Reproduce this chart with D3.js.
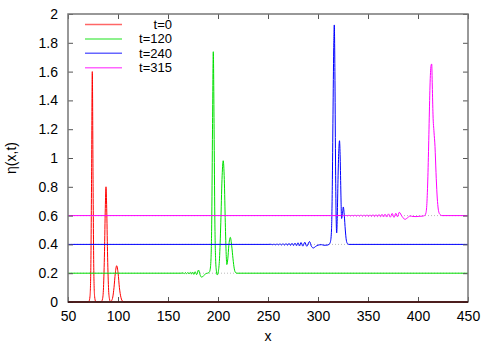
<!DOCTYPE html>
<html><head><meta charset="utf-8">
<script src="https://cdn.jsdelivr.net/npm/d3@7"></script>
<style>body{margin:0;background:#fff}svg{display:block}text{font-family:"Liberation Sans",Arial,sans-serif;fill:#000}</style>
</head><body><svg id="c" width="486" height="347"></svg>
<script>
const xTicks = [50,100,150,200,250,300,350,400,450];
const yTicks = [0,0.2,0.4,0.6,0.8,1,1.2,1.4,1.6,1.8,2];
const seriesNames = ["t=0","t=120","t=240","t=315"];
const seriesColors = ["#ff0000","#00e000","#0000ff","#ff00ff"];
const baselines = [0.2,0.4,0.6];

const t0 = [[50,0],[70,0],[71,0.005],[72,0.04],[72.8,0.22],[73.5,0.8],[74.3,1.6],[75.1,0.8],[75.8,0.22],[76.6,0.04],[77.6,0.005],[79,0],
 [83,0],[84.5,0.02],[85.5,0.1],[86.5,0.35],[87.3,0.65],[88,0.8],[88.7,0.65],[89.5,0.35],[90.5,0.1],[91.5,0.02],[92.5,0.002],
 [93.5,0.008],[94.8,0.035],[96,0.1],[97.3,0.2],[98.7,0.252],[100.1,0.2],[101.4,0.1],[103,0.03],[104.5,0.006],[106,0],[450,0]];

const t120 = [[50,0.2],[163,0.2],[165,0.202],[166.2,0.197],[167.4,0.204],[168.6,0.196],[169.8,0.205],[171,0.195],[172.2,0.206],[173.4,0.194],[174.6,0.208],[175.8,0.192],[177.2,0.21],[178.6,0.19],[180.5,0.222],[182,0.19],[183.7,0.172],[185.5,0.182],[187.5,0.195],[189.5,0.2],[191,0.205],
 [192,0.22],[193,0.3],[193.8,0.6],[194.5,1.2],[195.3,1.738],[196.1,1.2],[196.8,0.6],[197.6,0.3],[198.5,0.21],[199.3,0.188],
 [200.3,0.21],[201.5,0.3],[202.8,0.55],[204,0.85],[205.2,0.981],[206.3,0.85],[207.3,0.55],[208.2,0.33],[208.8,0.26],
 [209.8,0.3],[210.8,0.39],[212.3,0.449],[213.7,0.39],[215,0.3],[216.3,0.23],[217.5,0.205],[219,0.2],[450,0.2]];

const t240 = [[50,0.4],[250,0.4],[253,0.401],[254.5,0.398],[256,0.402],[257.5,0.397],[259,0.403],[260.5,0.397],[262,0.404],[263.5,0.396],[265,0.405],[266.5,0.395],[268,0.406],[269.5,0.394],[271,0.407],[272.5,0.393],[274,0.408],[275.5,0.392],[277,0.409],[278.5,0.391],[280,0.411],[281.5,0.389],[283,0.413],[284.8,0.388],[286.8,0.415],[288.8,0.387],[291.5,0.42],[293.2,0.39],[295.3,0.375],[297.5,0.385],[300,0.395],[303.7,0.398],[306,0.394],[309,0.395],[311,0.4],
 [312.5,0.42],[313.5,0.5],[314.3,0.8],[315,1.3],[315.7,1.75],[316.3,1.924],[316.9,1.6],[317.5,1.0],[318.1,0.6],[318.7,0.48],[319.3,0.6],[320,0.85],[320.8,1.05],[321.5,1.12],[322.2,1.0],[322.9,0.75],[323.6,0.58],[324.3,0.6],[325.3,0.66],[326.3,0.6],[327.3,0.5],[328.3,0.43],[329.5,0.405],[331,0.4],[450,0.4]];

const t315 = [[50,0.6],[320,0.6],[322,0.601],[323.5,0.599],[325,0.602],[326.5,0.598],[328,0.602],[329.5,0.598],[331,0.603],[332.5,0.597],[334,0.603],[335.5,0.597],[337,0.604],[338.5,0.596],[340,0.604],[341.5,0.596],[343,0.605],[344.5,0.595],[346,0.605],[347.5,0.595],[349,0.606],[350.5,0.594],[352,0.606],[353.5,0.594],[355,0.607],[356.5,0.593],[358,0.607],[359.5,0.593],[361,0.608],[362.5,0.592],[364,0.609],[365.5,0.591],[367,0.61],[368.7,0.59],[370.5,0.612],[372.3,0.589],[374.2,0.615],[376,0.588],[377.8,0.616],[379.5,0.592],[381.3,0.623],[384,0.595],[387,0.574],[389.5,0.585],[392,0.597],[395,0.594],[398,0.593],[401,0.595],[404,0.596],[406.5,0.6],
 [408,0.62],[409,0.7],[410,0.9],[411,1.2],[412,1.5],[413,1.64],[413.7,1.653],[414.3,1.5],[415,1.3],[416,1.18],[417,1.08],[418,0.9],[419,0.75],[420,0.66],[421,0.62],[422.5,0.605],[424,0.6],[450,0.6]];

const series = [t0,t120,t240,t315];

const svg = d3.select("#c");
const x = d3.scaleLinear().domain([50,450]).range([68,468]);
const y = d3.scaleLinear().domain([0,2]).range([302,14]);

svg.selectAll("line.base").data(baselines).join("line")
  .attr("x1",x(50)).attr("x2",x(450)).attr("y1",d=>y(d)).attr("y2",d=>y(d))
  .attr("stroke","#bbb").attr("stroke-width",1).attr("stroke-dasharray","1,2");

const line = d3.line().x(d=>x(d[0])).y(d=>y(d[1])).curve(d3.curveMonotoneX);
svg.selectAll("path.s").data(series).join("path")
  .attr("fill","none").attr("stroke",(d,i)=>seriesColors[i]).attr("stroke-width",1)
  .attr("d",line);

const tl = 5, fs = 14;
const gB = svg.append("g").attr("transform",`translate(0,${y(0)})`)
  .call(d3.axisBottom(x).tickValues(xTicks).tickSizeInner(-tl).tickSizeOuter(0).tickPadding(9).tickFormat(d3.format("d")));
const gT = svg.append("g").attr("transform",`translate(0,${y(2)})`)
  .call(d3.axisTop(x).tickValues(xTicks).tickSizeInner(-tl).tickSizeOuter(0).tickFormat(""));
const gL = svg.append("g").attr("transform",`translate(${x(50)},0)`)
  .call(d3.axisLeft(y).tickValues(yTicks).tickSizeInner(-tl).tickSizeOuter(0).tickPadding(10).tickFormat(d=>String(+d.toFixed(1))));
const gR = svg.append("g").attr("transform",`translate(${x(450)},0)`)
  .call(d3.axisRight(y).tickValues(yTicks).tickSizeInner(-tl).tickSizeOuter(0).tickFormat(""));
[gB,gT,gL,gR].forEach(g=>{
  g.select(".domain").remove();
  g.selectAll(".tick line").attr("stroke","#555").attr("stroke-width",1);
  g.selectAll("text").attr("font-size",fs).attr("font-family","Liberation Sans, Arial, sans-serif").attr("fill","#000");
});
gB.selectAll("text").attr("dy","0.71em");
svg.append("rect").attr("x",x(50)).attr("y",y(2)).attr("width",x(450)-x(50)).attr("height",y(0)-y(2))
  .attr("fill","none").attr("stroke","#777").attr("stroke-width",1.5);
svg.append("line").attr("x1",x(50)).attr("x2",x(450)).attr("y1",y(0)).attr("y2",y(0)).attr("stroke","#300").attr("stroke-width",1.5);

const lg = svg.append("g");
seriesNames.forEach((n,i)=>{
  const yy = 24.5 + i*14.4;
  lg.append("line").attr("x1",85).attr("x2",122).attr("y1",yy).attr("y2",yy).attr("stroke",seriesColors[i]).attr("stroke-opacity",0.6).attr("stroke-width",1.5);
  lg.append("text").attr("x",172).attr("y",yy+4.5).attr("text-anchor","end").attr("font-size",13).text(n);
});

svg.append("text").attr("x",x(250)).attr("y",341).attr("text-anchor","middle").attr("font-size",fs).text("x");
svg.append("text").attr("transform",`translate(16,${(y(0)+y(2))/2}) rotate(-90)`).attr("text-anchor","middle").attr("font-size",fs).text("η(x,t)");
</script></body></html>
